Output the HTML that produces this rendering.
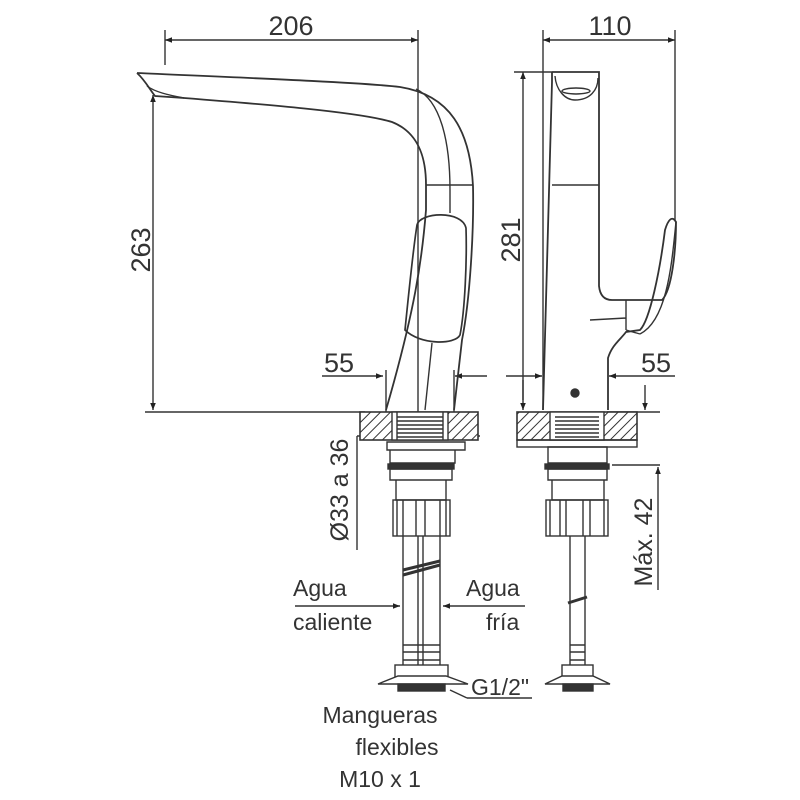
<!DOCTYPE html>
<html><head><style>
html,body{margin:0;padding:0;background:#fff}
svg{display:block}
text{font-family:"Liberation Sans",Arial,sans-serif;fill:#333}
</style></head><body>
<svg width="800" height="800" viewBox="0 0 800 800" xmlns="http://www.w3.org/2000/svg">
<defs>
<pattern id="h" width="7" height="7" patternUnits="userSpaceOnUse" patternTransform="rotate(45)">
<rect width="7" height="7" fill="#fff"/><line x1="0" y1="0" x2="0" y2="7" stroke="#333" stroke-width="2"/>
</pattern>
<marker id="a" viewBox="0 0 10 10" refX="10" refY="5" markerWidth="11" markerHeight="7" orient="auto-start-reverse" markerUnits="userSpaceOnUse"><path d="M0,1 L10,5 L0,9z" fill="#222"/></marker>
</defs>
<g stroke="#333" stroke-width="1.4" fill="none">
<line x1="165" y1="40" x2="418" y2="40" marker-start="url(#a)" marker-end="url(#a)"/>
<line x1="165" y1="30" x2="165" y2="65"/>
<line x1="418" y1="30" x2="418" y2="415"/>
<line x1="543" y1="40" x2="675" y2="40" marker-start="url(#a)" marker-end="url(#a)"/>
<line x1="543" y1="30" x2="543" y2="410"/>
<line x1="675" y1="30" x2="675" y2="220"/>
<line x1="153" y1="95" x2="153" y2="410" marker-start="url(#a)" marker-end="url(#a)"/>
<line x1="145" y1="412" x2="365" y2="412"/>
<line x1="523" y1="72" x2="523" y2="410" marker-start="url(#a)" marker-end="url(#a)"/>
<line x1="514" y1="72" x2="552" y2="72"/>
<line x1="607" y1="412" x2="660" y2="412"/>
<line x1="645" y1="385" x2="645" y2="410" marker-end="url(#a)"/>
<line x1="322" y1="376" x2="383" y2="376" marker-end="url(#a)"/>
<line x1="455" y1="376" x2="487" y2="376" marker-start="url(#a)"/>
<line x1="386" y1="370" x2="386" y2="412"/>
<line x1="454" y1="370" x2="454" y2="412"/>
<line x1="506" y1="376" x2="542" y2="376" marker-end="url(#a)"/>
<line x1="609" y1="376" x2="675" y2="376" marker-start="url(#a)"/>
<line x1="523" y1="380" x2="523" y2="400"/>
<line x1="357" y1="436" x2="357" y2="550"/>
<line x1="357" y1="436" x2="388" y2="436" marker-end="url(#a)"/>
<line x1="448" y1="436" x2="480" y2="436" marker-start="url(#a)"/>
<line x1="612" y1="465" x2="660" y2="465"/>
<line x1="658" y1="590" x2="658" y2="467" marker-end="url(#a)"/>

<path d="M137,73 C200,76 360,82 400,87 C450,95 470,130 473,186 C474,230 470,300 462,340 L454,410" stroke-width="1.8"/>
<path d="M137,73 C145,80 150,90 155,96 L184,98 C260,104 360,112 392,122 C420,133 426,160 426,185 L426,210 C422,260 415,310 386,410" stroke-width="1.8"/>
<path d="M147,86 C155,92 168,95 184,98"/>
<line x1="426" y1="185" x2="473" y2="185"/>
<path d="M416,89 C440,100 450,140 450,190 L450,213"/>
<path d="M417,225 C420,212 462,210 466,228 C467,260 465,310 460,335 C455,345 420,345 405,330 C408,300 413,250 417,225z" stroke-width="1.7"/>
<line x1="432" y1="343" x2="425" y2="410"/>
<path d="M552,72 L599,72 L599,286 C600,296 605,300 612,300 L662,300 C672,290 676,250 676,222 C672,215 668,220 665,230 C660,270 650,320 640,330 L626,332 C620,340 612,345 608,358 L608,410" stroke-width="1.8"/>
<path d="M552,72 L552,82 L543,410" stroke-width="1.8"/>
<path d="M555,76 C556,90 565,100 575,100 C590,100 598,90 598,78" />
<ellipse cx="576" cy="91" rx="14" ry="3"/>
<line x1="552" y1="185" x2="599" y2="185"/>
<path d="M626,300 L626,330 M626,330 L640,334 M590,320 L626,318 M676,222 C672,260 668,320 640,334"/>
<circle cx="575" cy="393" r="4" fill="#333"/>

<rect x="360" y="412" width="118" height="28" fill="url(#h)" stroke-width="1.6"/>
<rect x="392" y="412" width="56" height="28" fill="#fff"/>
<g stroke-width="1.6"><line x1="397" y1="417" x2="443" y2="417"/><line x1="397" y1="421" x2="443" y2="421"/><line x1="397" y1="425" x2="443" y2="425"/><line x1="397" y1="429" x2="443" y2="429"/><line x1="397" y1="433" x2="443" y2="433"/><line x1="397" y1="437" x2="443" y2="437"/></g>
<line x1="397" y1="412" x2="397" y2="440"/><line x1="443" y1="412" x2="443" y2="440"/>
<path d="M387,442 L465,442 L465,450 L387,450z M390,450 L455,450 L455,463 L390,463z"/>
<rect x="388" y="464" width="66" height="5" fill="#333"/>
<path d="M390,469 L452,469 L452,480 L390,480z M396,480 L446,480 L446,500 L396,500z"/>
<rect x="393" y="500" width="57" height="36"/>
<path d="M397,500 v36 M403,500 v36 M416,500 v36 M425,500 v36 M440,500 v36 M446,500 v36"/>
<path d="M403,536 V665 M418,536 V665 M423,536 V665 M440,536 V665"/>
<path d="M403,575 L440,565 M403,570 L440,561" stroke-width="3"/>
<path d="M403,645 h37 M403,652 h37 M403,660 h37"/>
<rect x="395" y="665" width="53" height="12"/>
<path d="M378,684 L398,676 L446,676 L468,684z" fill="#fff"/>
<rect x="398" y="684" width="47" height="7" fill="#333"/>
<rect x="517" y="412" width="120" height="28" fill="url(#h)" stroke-width="1.6"/>
<rect x="550" y="412" width="54" height="28" fill="#fff"/>
<g stroke-width="1.6"><line x1="555" y1="417" x2="599" y2="417"/><line x1="555" y1="421" x2="599" y2="421"/><line x1="555" y1="425" x2="599" y2="425"/><line x1="555" y1="429" x2="599" y2="429"/><line x1="555" y1="433" x2="599" y2="433"/><line x1="555" y1="437" x2="599" y2="437"/></g>
<rect x="517" y="440" width="120" height="7"/>
<path d="M548,447 L607,447 L607,463 L548,463z"/>
<rect x="545" y="464" width="64" height="5" fill="#333"/>
<path d="M548,469 L607,469 L607,480 L548,480z M552,480 L604,480 L604,500 L552,500z"/>
<rect x="546" y="500" width="62" height="36"/>
<path d="M550,500 v36 M560,500 v36 M566,500 v36 M583,500 v36 M590,500 v36 M604,500 v36"/>
<path d="M570,536 V665 M585,536 V665"/>
<path d="M568,603 L587,597" stroke-width="3"/>
<path d="M570,645 h15 M570,652 h15 M570,660 h15"/>
<rect x="562" y="665" width="31" height="12"/>
<path d="M545,684 L562,676 L593,676 L610,684z" fill="#fff"/>
<rect x="563" y="684" width="30" height="7" fill="#333"/>
<line x1="295" y1="606" x2="400" y2="606" marker-end="url(#a)"/>
<line x1="443" y1="606" x2="525" y2="606" marker-start="url(#a)"/>
<line x1="450" y1="690" x2="467" y2="698"/>
<line x1="467" y1="698" x2="532" y2="698"/>
</g>
<g font-size="27">
<text x="291" y="35" text-anchor="middle">206</text>
<text x="610" y="35" text-anchor="middle">110</text>
<text x="339" y="372" text-anchor="middle">55</text>
<text x="656" y="372" text-anchor="middle">55</text>
<text transform="translate(150,250) rotate(-90)" text-anchor="middle">263</text>
<text transform="translate(520,240) rotate(-90)" text-anchor="middle">281</text>
<text transform="translate(348,490) rotate(-90)" text-anchor="middle" font-size="25">Ø33 a 36</text>
<text transform="translate(652,542) rotate(-90)" text-anchor="middle" font-size="25">Máx. 42</text>
</g>
<g font-size="23">
<text x="293" y="596">Agua</text>
<text x="293" y="630">caliente</text>
<text x="466" y="596">Agua</text>
<text x="486" y="630">fría</text>
<text x="471" y="695">G1/2"</text>
<text x="380" y="723" text-anchor="middle">Mangueras</text>
<text x="397" y="755" text-anchor="middle">flexibles</text>
<text x="380" y="787" text-anchor="middle">M10 x 1</text>
</g>
</svg>
</body></html>
